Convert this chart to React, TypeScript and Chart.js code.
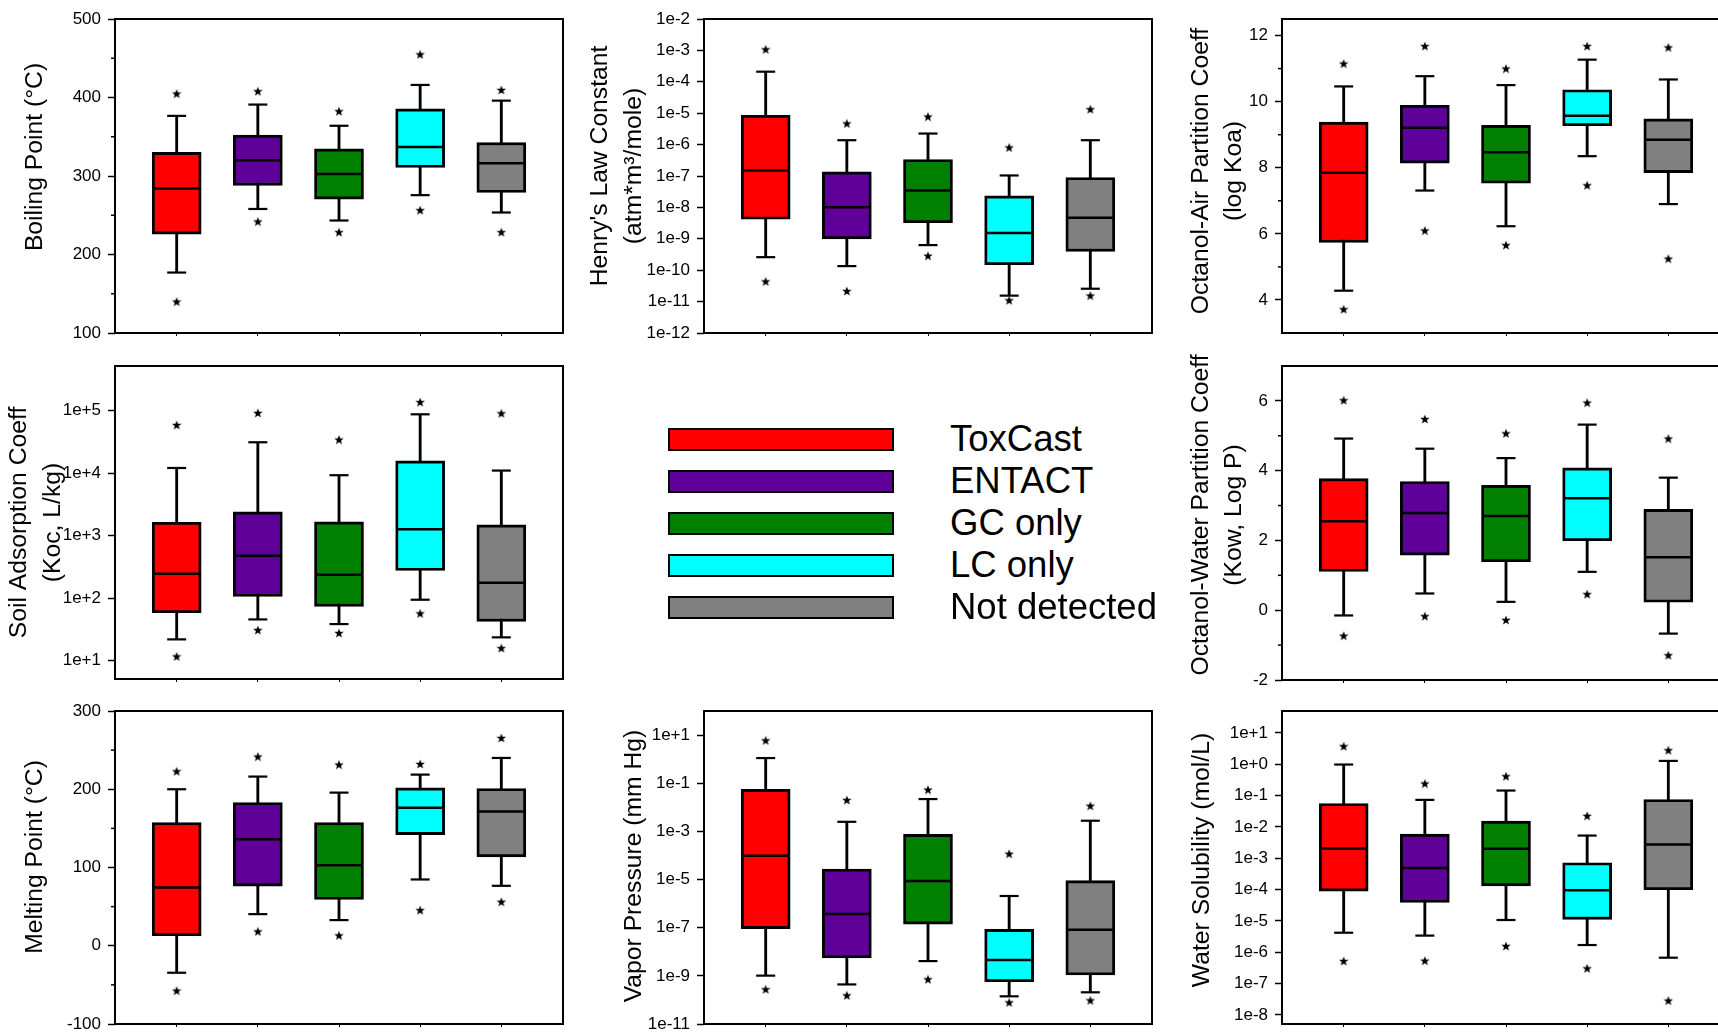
import React, { useEffect, useRef } from "react";
import { Chart, registerables } from "chart.js";

Chart.register(...registerables);

const FONT = '"Liberation Sans", Arial, Helvetica, sans-serif';
Chart.defaults.font.family = FONT;
Chart.defaults.color = "#000";

// ---------- categories ----------
const groups = ["ToxCast", "ENTACT", "GC only", "LC only", "Not detected"];
const groupColors = ["#FF0000", "#5F0099", "#008000", "#00FFFF", "#808080"];
const groupX = [0, 1, 2, 3, 4];

// ---------- Boiling Point (°C) ----------
const bpP5 = [140, 242, 228.5, 256.5, 228.5];
const bpP10 = [177, 258, 243.3, 275.6, 253.5];
const bpQ1 = [226, 288, 270.5, 310.8, 279];
const bpMed = [284, 320, 302.7, 337, 316.3];
const bpQ3 = [330, 352, 334.6, 385.5, 342.6];
const bpP90 = [376.6, 391, 364, 416, 396];
const bpP95 = [405, 408, 382.5, 455, 409.6];
const bpTicks = [100, 200, 300, 400, 500];
const bpMinor = [150, 250, 350, 450];

// ---------- Henry's Law Constant ----------
const hlP5 = [4.4e-11, 2.17e-11, 2.88e-10, 1.1e-11, 1.55e-11];
const hlP10 = [2.6e-10, 1.35e-10, 6.3e-10, 1.55e-11, 2.57e-11];
const hlQ1 = [4.2e-9, 1.0e-9, 3.24e-9, 1.49e-10, 3.96e-10];
const hlMed = [1.5e-7, 1.02e-8, 3.46e-8, 1.52e-9, 4.67e-9];
const hlQ3 = [8.6e-6, 1.36e-7, 3.35e-7, 2.34e-8, 8.95e-8];
const hlP90 = [2.1e-4, 1.38e-6, 2.25e-6, 1.04e-7, 1.38e-6];
const hlP95 = [1.08e-3, 4.7e-6, 7.8e-6, 8.1e-7, 1.34e-5];
const hlTicks = [1e-12, 1e-11, 1e-10, 1e-9, 1e-8, 1e-7, 1e-6, 1e-5, 1e-4, 1e-3, 1e-2];

// ---------- Octanol-Air Partition Coeff (log Koa) ----------
const koaP5 = [3.72, 6.1, 5.66, 7.47, 5.25];
const koaP10 = [4.28, 7.31, 6.23, 8.35, 6.9];
const koaQ1 = [5.74, 8.14, 7.53, 9.27, 7.85];
const koaMed = [7.85, 9.21, 8.47, 9.57, 8.85];
const koaQ3 = [9.38, 9.89, 9.28, 10.36, 9.48];
const koaP90 = [10.46, 10.77, 10.5, 11.27, 10.67];
const koaP95 = [11.15, 11.68, 11.0, 11.68, 11.64];
const koaTicks = [4, 6, 8, 10, 12];
const koaMinor = [5, 7, 9, 11];

// ---------- Soil Adsorption Coeff (Koc, L/kg) ----------
const kocP5 = [11.7, 30.9, 27.7, 57, 15.9];
const kocP10 = [21.9, 45.7, 38.5, 94.4, 23.6];
const kocQ1 = [58.5, 106.7, 73.8, 277, 42.5];
const kocMed = [245, 476, 237, 1270, 177];
const kocQ3 = [1640, 2400, 1660, 15700, 1490];
const kocP90 = [12100, 31200, 9270, 87400, 11000];
const kocP95 = [59000, 92000, 34400, 137000, 90700];
const kocTicks = [1e1, 1e2, 1e3, 1e4, 1e5];

// ---------- Octanol-Water Partition Coeff (Kow, Log P) ----------
const kowP5 = [-0.73, -0.17, -0.28, 0.46, -1.29];
const kowP10 = [-0.15, 0.48, 0.24, 1.1, -0.67];
const kowQ1 = [1.11, 1.58, 1.39, 1.99, 0.23];
const kowMed = [2.55, 2.79, 2.7, 3.21, 1.52];
const kowQ3 = [3.77, 3.69, 3.58, 4.08, 2.89];
const kowP90 = [4.92, 4.63, 4.36, 5.32, 3.8];
const kowP95 = [6.02, 5.48, 5.07, 5.95, 4.92];
const kowTicks = [-2, 0, 2, 4, 6];
const kowMinor = [-1, 1, 3, 5];

// ---------- Melting Point (°C) ----------
const mpP5 = [-57.4, 18.3, 13.2, 45.5, 56.2];
const mpP10 = [-34.5, 40.4, 32.8, 84.7, 76.6];
const mpQ1 = [12.8, 76.2, 59.1, 142.1, 113.6];
const mpMed = [74.5, 136.2, 103, 176.2, 171.5];
const mpQ3 = [157.4, 183, 157.4, 201.7, 200.9];
const mpP90 = [200, 216.2, 195.7, 218.7, 240];
const mpP95 = [223, 241.7, 231.5, 232.3, 265.5];
const mpTicks = [-100, 0, 100, 200, 300];
const mpMinor = [-50, 50, 150, 250];

// ---------- Vapor Pressure (mm Hg) ----------
const vpP5 = [2.76e-10, 1.55e-10, 7.2e-10, 7.9e-11, 9.6e-11];
const vpP10 = [1.02e-9, 4.4e-10, 4.1e-9, 1.41e-10, 2.07e-10];
const vpQ1 = [9.1e-8, 5.5e-9, 1.41e-7, 5.7e-10, 1.08e-9];
const vpMed = [9.8e-5, 3.7e-7, 8.7e-6, 4.5e-9, 8.3e-8];
const vpQ3 = [0.0555, 2.73e-5, 7.5e-4, 8.5e-8, 8.95e-6];
const vpP90 = [1.11, 2.5e-3, 0.022, 2.07e-6, 2.77e-3];
const vpP95 = [6.0, 0.02, 0.054, 1.18e-4, 0.0116];
const vpTicks = [1e-11, 1e-9, 1e-7, 1e-5, 1e-3, 1e-1, 1e1];

// ---------- Water Solubility (mol/L) ----------
const wsP5 = [5.25e-7, 5.4e-7, 1.58e-6, 3.07e-7, 2.86e-8];
const wsP10 = [4.2e-6, 3.4e-6, 1.07e-5, 1.7e-6, 6.7e-7];
const wsQ1 = [8.95e-5, 3.9e-5, 1.32e-4, 1.12e-5, 9.9e-5];
const wsMed = [2.05e-3, 4.85e-4, 2.0e-3, 9.6e-5, 2.75e-3];
const wsQ3 = [0.056, 5.9e-3, 0.0153, 7.2e-4, 0.075];
const wsP90 = [0.98, 0.073, 0.145, 5.3e-3, 1.28];
const wsP95 = [3.76, 0.243, 0.416, 0.0226, 2.8];
const wsTicks = [1e-8, 1e-7, 1e-6, 1e-5, 1e-4, 1e-3, 1e-2, 1e-1, 1e0, 1e1];

const fmtLog = (v: number) => {
  const e = Math.round(Math.log10(v));
  return "1e" + (e >= 0 ? "+" : "-") + Math.abs(e);
};

type Panel = {
  title: string[];
  type: "linear" | "logarithmic";
  min: number;
  max: number;
  ticks: number[];
  minor: number[];
  p5: number[]; p10: number[]; q1: number[]; med: number[]; q3: number[]; p90: number[]; p95: number[];
  L: number; R: number; T: number; B: number; titleX: number; titleDY: number;
};

const panels: Panel[] = [
  { title: ["Boiling Point (°C)"], type: "linear", min: 100, max: 500, ticks: bpTicks, minor: bpMinor,
    p5: bpP5, p10: bpP10, q1: bpQ1, med: bpMed, q3: bpQ3, p90: bpP90, p95: bpP95,
    L: 115, R: 563, T: 19, B: 333, titleX: 60, titleDY: -19 },
  { title: ["Henry's Law Constant", "(atm*m³/mole)"], type: "logarithmic", min: 1e-12, max: 1e-2, ticks: hlTicks, minor: [],
    p5: hlP5, p10: hlP10, q1: hlQ1, med: hlMed, q3: hlQ3, p90: hlP90, p95: hlP95,
    L: 704, R: 1152, T: 19, B: 333, titleX: 36, titleDY: -10 },
  { title: ["Octanol-Air Partition Coeff", "(log Koa)"], type: "linear", min: 3, max: 12.5, ticks: koaTicks, minor: koaMinor,
    p5: koaP5, p10: koaP10, q1: koaQ1, med: koaMed, q3: koaQ3, p90: koaP90, p95: koaP95,
    L: 1282, R: 1730, T: 19, B: 333, titleX: 58.7, titleDY: -5 },
  { title: ["Soil Adsorption Coeff", "(Koc, L/kg)"], type: "logarithmic", min: 5.09, max: 5.18e5, ticks: kocTicks, minor: [],
    p5: kocP5, p10: kocP10, q1: kocQ1, med: kocMed, q3: kocQ3, p90: kocP90, p95: kocP95,
    L: 115, R: 563, T: 366, B: 679, titleX: 44.2, titleDY: 0 },
  { title: ["Octanol-Water Partition Coeff", "(Kow, Log P)"], type: "linear", min: -2, max: 7, ticks: kowTicks, minor: kowMinor,
    p5: kowP5, p10: kowP10, q1: kowQ1, med: kowMed, q3: kowQ3, p90: kowP90, p95: kowP95,
    L: 1282, R: 1730, T: 366, B: 680, titleX: 58.7, titleDY: -8 },
  { title: ["Melting Point (°C)"], type: "linear", min: -100, max: 300, ticks: mpTicks, minor: mpMinor,
    p5: mpP5, p10: mpP10, q1: mpQ1, med: mpMed, q3: mpQ3, p90: mpP90, p95: mpP95,
    L: 115, R: 563, T: 711, B: 1024, titleX: 60, titleDY: -10.5 },
  { title: ["Vapor Pressure (mm Hg)"], type: "logarithmic", min: 1e-11, max: 1e2, ticks: vpTicks, minor: [],
    p5: vpP5, p10: vpP10, q1: vpQ1, med: vpMed, q3: vpQ3, p90: vpP90, p95: vpP95,
    L: 704, R: 1152, T: 711, B: 1024, titleX: 70, titleDY: -1.5 },
  { title: ["Water Solubility (mol/L)"], type: "logarithmic", min: 5.13e-9, max: 50.1, ticks: wsTicks, minor: [],
    p5: wsP5, p10: wsP10, q1: wsQ1, med: wsMed, q3: wsQ3, p90: wsP90, p95: wsP95,
    L: 1282, R: 1730, T: 711, B: 1024, titleX: 60.5, titleDY: -7.5 },
];

const YW = 140;
const PT = 14;
const XH = 14;
const PR = 6;
const TITLE_SIZE = 24.7;
const TITLE_LINE = 33.8;

const framePlugin = {
  id: "frame",
  afterDraw(chart: any, _args: any, opts: any) {
    const { ctx, chartArea: a } = chart;
    ctx.save();
    ctx.strokeStyle = "#000";
    ctx.lineWidth = 2;
    ctx.strokeRect(a.left, a.top, a.right - a.left, a.bottom - a.top);
    const ys = chart.scales.y;
    ctx.lineWidth = 1.5;
    (opts.minor || []).forEach((v: number) => {
      const p = ys.getPixelForValue(v);
      ctx.beginPath();
      ctx.moveTo(a.left - 4, p);
      ctx.lineTo(a.left, p);
      ctx.stroke();
    });
    // axis title (rotated, multi-line)
    const lines: string[] = opts.title || [];
    const cx = a.left - YW + opts.titleX;
    const cy = (a.top + a.bottom) / 2 + (opts.titleDY || 0);
    ctx.translate(cx, cy);
    ctx.rotate(-Math.PI / 2);
    ctx.fillStyle = "#000";
    ctx.font = `${TITLE_SIZE}px ${FONT}`;
    ctx.textAlign = "center";
    ctx.textBaseline = "middle";
    lines.forEach((ln, i) => ctx.fillText(ln, 0, i * TITLE_LINE));
    ctx.restore();
  },
};

function makeStar() {
  const c = document.createElement("canvas");
  c.width = 10;
  c.height = 10;
  const g = c.getContext("2d")!;
  g.fillStyle = "#000";
  g.beginPath();
  for (let i = 0; i < 10; i++) {
    const r = i % 2 === 0 ? 5 : 2.1;
    const a = -Math.PI / 2 + (i * Math.PI) / 5;
    const x = 5 + r * Math.cos(a);
    const y = 5.4 + r * Math.sin(a);
    if (i === 0) g.moveTo(x, y);
    else g.lineTo(x, y);
  }
  g.closePath();
  g.fill();
  return c;
}

const zeroPad = (s: any) => {
  s.paddingTop = 0;
  s.paddingBottom = 0;
  s.paddingLeft = 0;
  s.paddingRight = 0;
};

function BoxPanel({ p }: { p: Panel }) {
  const ref = useRef<HTMLCanvasElement>(null);
  const width = p.R - p.L + YW + PR;
  const height = p.B - p.T + PT + XH;

  useEffect(() => {
    const canvas = ref.current!;
    const star = makeStar();
    const xy = (vals: number[]) => vals.map((v, i) => ({ x: groupX[i], y: v }));
    const chart = new Chart(canvas, {
      type: "bar",
      data: {
        datasets: [
          {
            type: "scatter",
            data: [...xy(p.p5), ...xy(p.p95)],
            pointStyle: star,
            pointRadius: 5,
            pointHoverRadius: 5,
            order: 0,
          },
          {
            type: "scatter",
            data: [...xy(p.p10), ...xy(p.p90)],
            pointStyle: "line",
            pointRadius: 9.5,
            pointHoverRadius: 9.5,
            pointBorderWidth: 2.2,
            pointBorderColor: "#000",
            order: 1,
          },
          {
            type: "scatter",
            data: xy(p.med),
            pointStyle: "line",
            pointRadius: 22.5,
            pointHoverRadius: 22.5,
            pointBorderWidth: 2.5,
            pointBorderColor: "#000",
            order: 2,
          },
          {
            type: "bar",
            data: p.q1.map((q, i) => ({ x: groupX[i], y: [q, p.q3[i]] })),
            backgroundColor: groupColors,
            borderColor: "#000",
            borderWidth: 2.9,
            borderSkipped: false,
            barThickness: 49,
            grouped: false,
            order: 3,
          },
          {
            type: "bar",
            data: p.p10.map((w, i) => ({ x: groupX[i], y: [w, p.p90[i]] })),
            backgroundColor: "#000",
            borderWidth: 0,
            barThickness: 2.2,
            grouped: false,
            order: 4,
          },
        ],
      } as any,
      options: {
        responsive: false,
        animation: false,
        events: [],
        layout: { autoPadding: false, padding: { left: 0, top: PT, right: PR, bottom: 0 } },
        plugins: {
          legend: { display: false },
          tooltip: { enabled: false },
          frame: { minor: p.minor, title: p.title, titleX: p.titleX, titleDY: p.titleDY },
        } as any,
        scales: {
          x: {
            type: "linear",
            min: -0.76,
            max: 4.76,
            offset: false,
            grid: {
              display: true,
              drawOnChartArea: false,
              drawTicks: true,
              tickLength: 3,
              tickWidth: 1,
              tickColor: "#000",
              offset: false,
            },
            border: { display: false },
            ticks: { display: false },
            afterBuildTicks: (s: any) => {
              s.ticks = groupX.map((v) => ({ value: v }));
            },
            afterFit: (s: any) => {
              s.height = XH;
              zeroPad(s);
            },
          },
          y: {
            type: p.type,
            min: p.min,
            max: p.max,
            beginAtZero: false,
            grid: {
              display: true,
              drawOnChartArea: false,
              drawTicks: true,
              tickLength: 7,
              tickWidth: 1.5,
              tickColor: "#000",
            },
            border: { display: false },
            ticks: {
              autoSkip: false,
              padding: 7,
              color: "#000",
              font: { family: FONT, size: 17 },
              callback: (v: any) => (p.type === "logarithmic" ? fmtLog(Number(v)) : String(v)),
            },
            afterBuildTicks: (s: any) => {
              s.ticks = p.ticks.map((v) => ({ value: v }));
            },
            afterFit: (s: any) => {
              s.width = YW;
              zeroPad(s);
            },
            title: { display: false },
          },
        } as any,
      },
      plugins: [framePlugin],
    } as any);
    return () => chart.destroy();
  }, []);

  return (
    <canvas
      ref={ref}
      width={width}
      height={height}
      style={{ position: "absolute", left: p.L - YW, top: p.T - PT, width, height }}
    />
  );
}

function Legend() {
  const firstCenter = 439.3;
  const step = 42;
  return (
    <>
      {groups.map((g, i) => {
        const c = firstCenter + i * step;
        return (
          <React.Fragment key={g}>
            <div
              style={{
                position: "absolute",
                left: 668,
                top: c - 11.5,
                width: 226,
                height: 23,
                boxSizing: "border-box",
                border: "2px solid #000",
                background: groupColors[i],
              }}
            />
            <div
              style={{
                position: "absolute",
                left: 950,
                top: c - 18,
                fontFamily: FONT,
                fontSize: 36.5,
                lineHeight: "36px",
                color: "#000",
                whiteSpace: "nowrap",
              }}
            >
              {g}
            </div>
          </React.Fragment>
        );
      })}
    </>
  );
}

export default function App() {
  return (
    <div
      style={{
        position: "fixed",
        left: 0,
        top: 0,
        width: 1718,
        height: 1032,
        overflow: "hidden",
        background: "#fff",
      }}
    >
      {panels.map((p, i) => (
        <BoxPanel key={i} p={p} />
      ))}
      <Legend />
    </div>
  );
}
